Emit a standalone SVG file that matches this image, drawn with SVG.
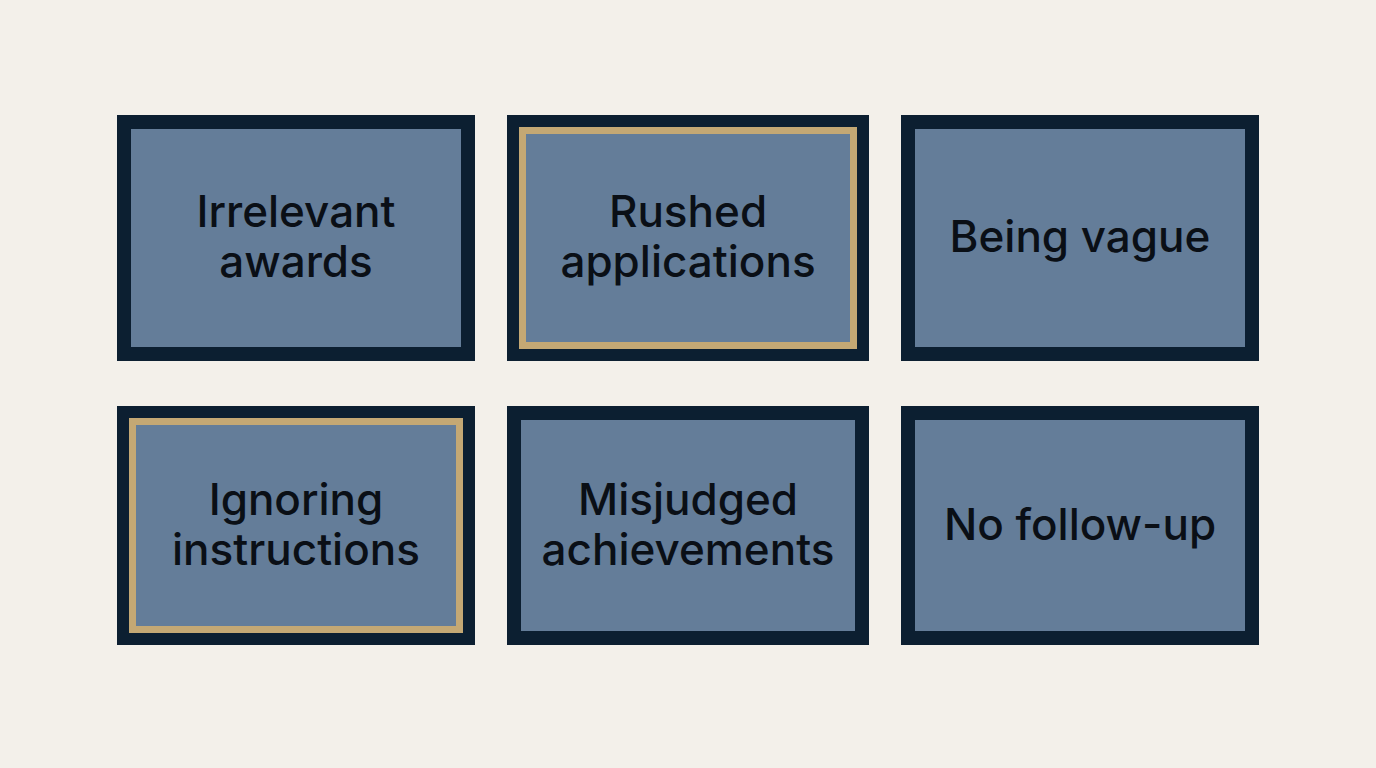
<svg xmlns="http://www.w3.org/2000/svg" width="1376" height="768" viewBox="0 0 1376 768">
<style>
.o{fill:#0c1f31}
.i{fill:#647d99}
.g{fill:none;stroke:#c4a874;stroke-width:7}
text{font-family:Inter,"Liberation Sans",sans-serif;font-size:44px;font-weight:500;fill:#0a0f16;text-anchor:middle}
</style>
<rect width="1376" height="768" fill="#f3f0ea"/>
<g id="n1"><rect class="o" x="117" y="115" width="358" height="246"/><rect class="i" x="131" y="129" width="330" height="218"/><text x="296" y="227">Irrelevant</text><text x="296" y="277">awards</text></g>
<g id="n2"><rect class="o" x="507" y="115" width="362" height="246"/><rect class="i" x="519" y="127" width="338" height="222"/><rect class="g" x="522.5" y="130.5" width="331" height="215"/><text x="688" y="227">Rushed</text><text x="688" y="277">applications</text></g>
<g id="n3"><rect class="o" x="901" y="115" width="358" height="246"/><rect class="i" x="915" y="129" width="330" height="218"/><text x="1080" y="252">Being vague</text></g>
<g id="n4"><rect class="o" x="117" y="406" width="358" height="239"/><rect class="i" x="129" y="418" width="334" height="215"/><rect class="g" x="132.5" y="421.5" width="327" height="208"/><text x="296" y="515">Ignoring</text><text x="296" y="565">instructions</text></g>
<g id="n5"><rect class="o" x="507" y="406" width="362" height="239"/><rect class="i" x="521" y="420" width="334" height="211"/><text x="688" y="515">Misjudged</text><text x="688" y="565">achievements</text></g>
<g id="n6"><rect class="o" x="901" y="406" width="358" height="239"/><rect class="i" x="915" y="420" width="330" height="211"/><text x="1080" y="540">No follow-up</text></g>
<g id="connectors"/>
</svg>
